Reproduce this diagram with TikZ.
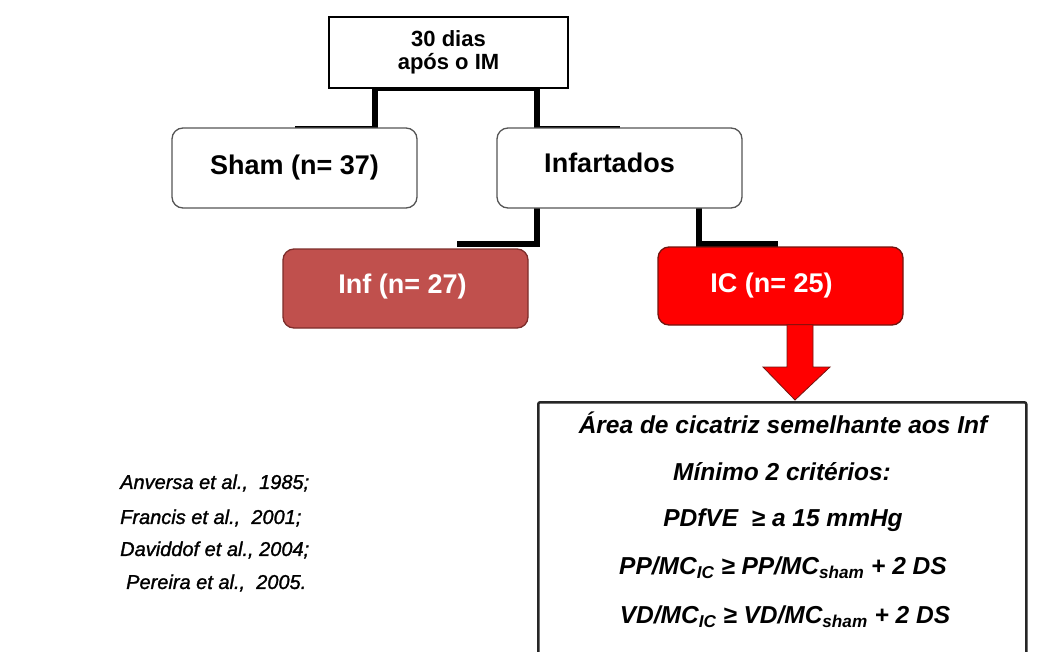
\documentclass[tikz,border=0pt]{standalone}
\usepackage{fontspec}
\setmainfont{Liberation Sans}
\newfontface\reffont[FakeBold=1.3]{Liberation Sans Italic}
\usetikzlibrary{calc}
\definecolor{infred}{RGB}{192,80,77}
\definecolor{infborder}{RGB}{125,45,43}
\definecolor{icred}{RGB}{255,0,0}
\definecolor{icborder}{RGB}{115,20,15}
\definecolor{grpgray}{RGB}{85,85,85}
\tikzset{
  topbox/.style={draw=black, line width=2.5pt, fill=white, minimum width=239pt, minimum height=71pt,
    align=center, inner sep=0pt, font=\fontsize{22}{23}\selectfont\bfseries},
  grpbox/.style={draw=grpgray, line width=1.3pt, rounded corners=11pt, fill=white,
    minimum width=245pt, minimum height=80pt, inner sep=0pt, font=\fontsize{27}{30}\selectfont\bfseries},
  infbox/.style={grpbox, draw=infborder, fill=infred, text=white, minimum height=79pt},
  icbox/.style={grpbox, draw=icborder, fill=icred, text=white, minimum height=78pt},
  critbox/.style={draw=black!85, line width=2.5pt, fill=white, rounded corners=2pt,
    minimum width=488pt, minimum height=300pt, inner sep=0pt},
  critline/.style={font=\fontsize{24.5}{28}\selectfont\bfseries\itshape, inner sep=0pt},
  refline/.style={font=\fontsize{20}{24}\reffont, inner sep=0pt, anchor=west},
  conn/.style={draw=black, line width=5.5pt, line join=miter, line cap=butt},
  edgeline/.style={draw=black, line width=4pt, line cap=butt},
  bigarrow/.style={fill=icred, draw=icborder, line width=0.8pt, line join=miter}
}
\begin{document}
\begin{tikzpicture}[x=1pt,y=-1pt]
\useasboundingbox (0,0) rectangle (1055,651);
\clip (0,0) rectangle (1055,651);
\fill[white] (0,0) rectangle (1055,651);

% coordinates for connector routing
\coordinate (xL) at (375,0);
\coordinate (xR) at (537,0);
\coordinate (infend) at (457,244);
\coordinate (icend) at (778,244);
\coordinate (ax) at (796,0);
\coordinate (shamtop) at (375,128);
\coordinate (infatop) at (537,128);
\coordinate (infabotL) at (537,208);
\coordinate (infabotR) at (699,208);

% connectors (drawn under the boxes)
\draw[conn] (xL |- 0,88) -- (xR |- 0,88);
\draw[conn] (xL |- 0,88) -- (shamtop);
\draw[conn] (xR |- 0,88) -- (infatop);
\draw[edgeline] (shamtop) -- (294.5,128);
\draw[edgeline] (infatop) -- (619.5,128);
\draw[conn] (infabotL) |- (infend);
\draw[conn] (infabotR) |- (icend);

% boxes
\node[topbox] (top) at (448.5,52.5) {30 dias\\após o IM};
\node[grpbox] (sham) at (294.5,168) {Sham (n= 37)};
\node[grpbox] (infa) at (619.5,168) {\raisebox{10pt}{\hspace*{-20pt}Infartados}};
\node[infbox] (inf) at (405.5,288.5) {\raisebox{10pt}{\hspace*{-6pt}Inf (n= 27)}};
\node[icbox] (ic) at (780.5,286) {\raisebox{3pt}{\hspace*{-18pt}IC (n= 25)}};
\node[critbox, anchor=north west] (crit) at (537,401) {};

% big red arrow from IC box to criteria box
\path (ic.south -| ax) coordinate (as) (crit.north -| ax) coordinate (ae);
\filldraw[bigarrow] ($(as)+(-9,-1)$) -- ($(as)+(17,-1)$) -- ($(ae)+(17,-34)$) -- ($(ae)+(34,-34)$)
  -- ($(ae)+(-1,-1)$) -- ($(ae)+(-33,-34)$) -- ($(ae)+(-9,-34)$) -- cycle;

% criteria text
\node[critline] (c1) at (783,423) {Área de cicatriz semelhante aos Inf};
\node[critline] (c2) at (782,472) {Mínimo 2 critérios:};
\node[critline] (c3) at (783,520) {PDfVE\ \ ≥ a 15 mmHg};
\node[critline] (c4) at (783,568) {PP/MC\textsubscript{IC} ≥ PP/MC\textsubscript{sham} + 2 DS};
\node[critline] (c5) at (785,617) {VD/MC\textsubscript{IC} ≥ VD/MC\textsubscript{sham} + 2 DS};

% references
\node[refline] (r1) at (120,483) {Anversa et al.,\ \ 1985;};
\node[refline] (r2) at (120,518) {Francis et al.,\ \ 2001;};
\node[refline] (r3) at (120,550) {Daviddof et al., 2004;};
\node[refline] (r4) at (126,583) {Pereira et al.,\ \ 2005.};
\end{tikzpicture}
\end{document}
